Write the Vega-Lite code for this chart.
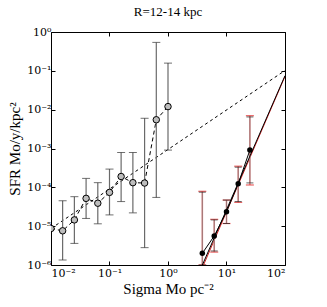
{
  "$schema": "https://vega.github.io/schema/vega-lite/v6.json",
  "autosize": "none",
  "width": 234,
  "height": 233,
  "padding": {"left": 51, "top": 32, "right": 42, "bottom": 42},
  "title": {"text": "R=12-14 kpc", "font": "Liberation Serif", "fontSize": 13, "fontWeight": "normal", "offset": 7, "color": "black"},
  "config": {
    "view": {"stroke": "black", "strokeWidth": 1},
    "axis": {"grid": false, "domain": false, "tickColor": "black", "tickSize": -4, "labelFont": "DejaVu Serif", "labelFontSize": 11, "labelColor": "black", "titleFont": "Liberation Serif", "titleFontSize": 15, "titleFontWeight": "normal", "titleColor": "black"}
  },
  "datasets": {
    "gray": [
      {"x": 0.01, "y": 8.7e-6, "lo": 8.7e-6, "hi": 8.7e-6},
      {"x": 0.0158, "y": 7.6e-6, "lo": 1.35e-6, "hi": 4.5e-5},
      {"x": 0.0251, "y": 1.45e-5, "lo": 3.6e-6, "hi": 5.75e-5},
      {"x": 0.0398, "y": 5.2e-5, "lo": 1.58e-5, "hi": 1.7e-4},
      {"x": 0.0631, "y": 3.9e-5, "lo": 1.15e-5, "hi": 1.32e-4},
      {"x": 0.1, "y": 7.4e-5, "lo": 1.95e-5, "hi": 2.95e-4},
      {"x": 0.158, "y": 1.9e-4, "lo": 4.3e-5, "hi": 7.9e-4},
      {"x": 0.251, "y": 1.32e-4, "lo": 2.2e-5, "hi": 7.9e-4},
      {"x": 0.398, "y": 1.29e-4, "lo": 2.8e-6, "hi": 6.0e-3},
      {"x": 0.631, "y": 5.5e-3, "lo": 5.5e-5, "hi": 0.54},
      {"x": 1.0, "y": 1.2e-2, "lo": 9.1e-4, "hi": 0.158}
    ],
    "black": [
      {"x": 3.86, "y": 2.0e-6, "lo": 1.0e-6, "hi": 7.5e-5, "rlo": 1.0e-6, "rhi": 7.9e-5},
      {"x": 6.17, "y": 5.6e-6, "lo": 2.3e-6, "hi": 1.45e-5, "rlo": 2.15e-6, "rhi": 1.5e-5},
      {"x": 10.0, "y": 2.35e-5, "lo": 1.17e-5, "hi": 4.7e-5, "rlo": 1.17e-5, "rhi": 4.7e-5},
      {"x": 15.85, "y": 1.23e-4, "lo": 4.3e-5, "hi": 3.3e-4, "rlo": 4.1e-5, "rhi": 3.5e-4},
      {"x": 25.1, "y": 9.1e-4, "lo": 1.3e-4, "hi": 6.5e-3, "rlo": 1.15e-4, "rhi": 7.0e-3}
    ],
    "fitDash": [{"x": 0.01, "y": 8.7e-6}, {"x": 100, "y": 0.102}],
    "fitBlack": [{"x": 3.87, "y": 1e-6}, {"x": 100, "y": 0.075}],
    "fitRed": [{"x": 4.05, "y": 1e-6}, {"x": 100, "y": 0.072}]
  },
  "resolve": {"axis": {"x": "independent", "y": "independent"}},
  "layer": [
    {
      "data": {"name": "fitDash"},
      "mark": {"type": "line", "color": "black", "strokeWidth": 1, "strokeDash": [3, 3], "clip": true},
      "encoding": {
        "x": {"field": "x", "type": "quantitative", "scale": {"type": "log", "domain": [0.01, 100], "nice": false}, "axis": {"orient": "top", "labels": false, "title": null, "values": [0.01, 0.1, 1, 10, 100]}},
        "y": {"field": "y", "type": "quantitative", "scale": {"type": "log", "domain": [1e-6, 1], "nice": false}, "axis": {"orient": "right", "labels": false, "title": null, "values": [1e-6, 1e-5, 1e-4, 1e-3, 1e-2, 1e-1, 1]}}
      }
    },
    {
      "data": {"name": "gray"},
      "mark": {"type": "line", "color": "black", "strokeWidth": 1, "strokeDash": [4, 3], "clip": true},
      "encoding": {
        "x": {"field": "x", "type": "quantitative", "scale": {"type": "log", "domain": [0.01, 100], "nice": false}, "axis": {"orient": "bottom", "title": "Sigma Mo pc⁻²", "titlePadding": 3, "labelPadding": 6, "values": [0.01, 0.1, 1, 10, 100], "labelExpr": "'10' + (round(log(datum.value)/LN10) < 0 ? '⁻' : '') + ['⁰','¹','²','³','⁴','⁵','⁶'][abs(round(log(datum.value)/LN10))]"}},
        "y": {"field": "y", "type": "quantitative", "scale": {"type": "log", "domain": [1e-6, 1], "nice": false}, "axis": {"orient": "left", "title": "SFR Mo/y/kpc²", "titlePadding": 4, "labelPadding": 4, "values": [1e-6, 1e-5, 1e-4, 1e-3, 1e-2, 1e-1, 1], "labelExpr": "'10' + (round(log(datum.value)/LN10) < 0 ? '⁻' : '') + ['⁰','¹','²','³','⁴','⁵','⁶'][abs(round(log(datum.value)/LN10))]"}}
      }
    },
    {
      "data": {"name": "gray"},
      "mark": {"type": "rule", "color": "#6a6a6a", "strokeWidth": 1.2, "clip": true},
      "encoding": {
        "x": {"field": "x", "type": "quantitative", "axis": null},
        "y": {"field": "lo", "type": "quantitative", "axis": null},
        "y2": {"field": "hi"}
      }
    },
    {
      "data": {"name": "gray"},
      "mark": {"type": "tick", "orient": "horizontal", "size": 8, "thickness": 1, "color": "#333", "clip": true},
      "encoding": {
        "x": {"field": "x", "type": "quantitative", "axis": null},
        "y": {"field": "lo", "type": "quantitative", "axis": null}
      }
    },
    {
      "data": {"name": "gray"},
      "mark": {"type": "tick", "orient": "horizontal", "size": 8, "thickness": 1, "color": "#333", "clip": true},
      "encoding": {
        "x": {"field": "x", "type": "quantitative", "axis": null},
        "y": {"field": "hi", "type": "quantitative", "axis": null}
      }
    },
    {
      "data": {"name": "gray"},
      "mark": {"type": "point", "shape": "circle", "filled": true, "fill": "#bdbdbd", "stroke": "black", "strokeWidth": 1, "size": 42, "opacity": 1, "clip": true},
      "encoding": {
        "x": {"field": "x", "type": "quantitative", "axis": null},
        "y": {"field": "y", "type": "quantitative", "axis": null}
      }
    },
    {
      "data": {"name": "fitRed"},
      "mark": {"type": "line", "color": "#d02020", "strokeWidth": 1, "clip": true},
      "encoding": {
        "x": {"field": "x", "type": "quantitative", "axis": null},
        "y": {"field": "y", "type": "quantitative", "axis": null}
      }
    },
    {
      "data": {"name": "black"},
      "mark": {"type": "rule", "color": "#e09090", "strokeWidth": 1.6, "clip": true},
      "encoding": {
        "x": {"field": "x", "type": "quantitative", "axis": null},
        "y": {"field": "rlo", "type": "quantitative", "axis": null},
        "y2": {"field": "rhi"}
      }
    },
    {
      "data": {"name": "black"},
      "mark": {"type": "tick", "orient": "horizontal", "size": 8, "thickness": 1.2, "color": "#e02020", "clip": true},
      "encoding": {
        "x": {"field": "x", "type": "quantitative", "axis": null},
        "y": {"field": "rlo", "type": "quantitative", "axis": null}
      }
    },
    {
      "data": {"name": "black"},
      "mark": {"type": "tick", "orient": "horizontal", "size": 8, "thickness": 1.2, "color": "#e02020", "clip": true},
      "encoding": {
        "x": {"field": "x", "type": "quantitative", "axis": null},
        "y": {"field": "rhi", "type": "quantitative", "axis": null}
      }
    },
    {
      "data": {"name": "black"},
      "mark": {"type": "rule", "color": "#806868", "strokeWidth": 0.7, "clip": true},
      "encoding": {
        "x": {"field": "x", "type": "quantitative", "axis": null},
        "y": {"field": "lo", "type": "quantitative", "axis": null},
        "y2": {"field": "hi"}
      }
    },
    {
      "data": {"name": "black"},
      "mark": {"type": "tick", "orient": "horizontal", "size": 7, "thickness": 1, "color": "#222", "clip": true},
      "encoding": {
        "x": {"field": "x", "type": "quantitative", "axis": null},
        "y": {"field": "lo", "type": "quantitative", "axis": null}
      }
    },
    {
      "data": {"name": "black"},
      "mark": {"type": "tick", "orient": "horizontal", "size": 7, "thickness": 1, "color": "#222", "clip": true},
      "encoding": {
        "x": {"field": "x", "type": "quantitative", "axis": null},
        "y": {"field": "hi", "type": "quantitative", "axis": null}
      }
    },
    {
      "data": {"name": "fitBlack"},
      "mark": {"type": "line", "color": "black", "strokeWidth": 1, "clip": true},
      "encoding": {
        "x": {"field": "x", "type": "quantitative", "axis": null},
        "y": {"field": "y", "type": "quantitative", "axis": null}
      }
    },
    {
      "data": {"name": "black"},
      "mark": {"type": "line", "color": "black", "strokeWidth": 1, "clip": true},
      "encoding": {
        "x": {"field": "x", "type": "quantitative", "axis": null},
        "y": {"field": "y", "type": "quantitative", "axis": null}
      }
    },
    {
      "data": {"name": "black"},
      "mark": {"type": "point", "shape": "circle", "filled": true, "color": "black", "size": 30, "opacity": 1, "clip": true},
      "encoding": {
        "x": {"field": "x", "type": "quantitative", "axis": null},
        "y": {"field": "y", "type": "quantitative", "axis": null}
      }
    }
  ]
}
